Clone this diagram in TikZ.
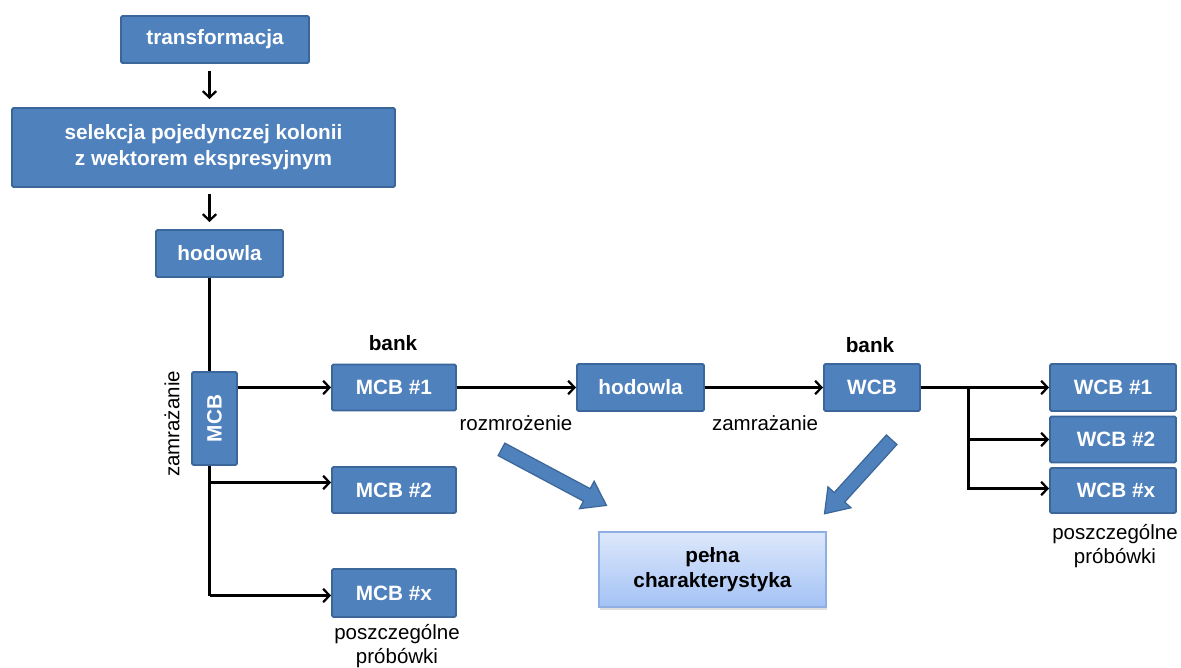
\documentclass[tikz,border=0pt]{standalone}
\usepackage{fontspec}
\setmainfont{Liberation Sans}
\usetikzlibrary{shapes.arrows,shadows,arrows.meta,calc}

\definecolor{boxblue}{HTML}{4F81BD}
\definecolor{boxedge}{HTML}{3A6699}
\definecolor{paletop}{HTML}{DDE8FB}
\definecolor{palebot}{HTML}{A3C2F5}
\definecolor{paleedge}{HTML}{8FAFE2}

\begin{document}
\begin{tikzpicture}[x=1pt,y=-1pt,
  blk/.style={draw=boxedge, line width=1.8pt, fill=boxblue, rounded corners=1.5pt,
    text=white, font=\fontsize{20.75}{26}\selectfont\bfseries, inner sep=0pt},
  lbl/.style={font=\fontsize{20.5}{24}\selectfont, inner sep=0pt, align=center},
  bold lbl/.style={lbl, font=\fontsize{20.75}{24}\selectfont\bfseries},
  conn/.style={line width=2.4pt, -{Straight Barb[length=6.5pt,width=13.5pt,line width=2.2pt]}},
  plain/.style={line width=2.4pt},
  fat arrow/.style={single arrow, draw=boxedge, fill=boxblue, line width=1.2pt,
    inner sep=6.5pt, single arrow head extend=8.5pt, single arrow tip angle=70}]

\useasboundingbox (0,0) rectangle (1181,668);

% upper chain
\node[blk, minimum width=188, minimum height=47] (tr) at (215,39.5) {transformacja};
\node[blk, minimum width=383, minimum height=79, align=center] (sel) at (203.5,147.5)
  {selekcja pojedynczej kolonii\\z wektorem ekspresyjnym};
\node[blk, minimum width=127, minimum height=47] (hod) at (219.5,253.5) {hodowla};

\coordinate (trunk) at (209.5,595.5);
\draw[conn] ($(tr.south -| trunk)+(0,7)$) -- ($(sel.north -| trunk)+(0,-8)$);
\draw[conn] ($(sel.south -| trunk)+(0,6)$) -- ($(hod.north -| trunk)+(0,-7)$);

% master bank: trunk drawn first so that the MCB box lies on top
\node[blk, minimum width=124, minimum height=46] (mcb1) at (394,387.5) {MCB \#1};
\node[blk, minimum width=124, minimum height=46] (mcb2) at (394,490) {MCB \#2};
\node[blk, minimum width=124, minimum height=48] (mcbx) at (394,593) {MCB \#x};
\draw[plain] (hod.south -| trunk) -- (trunk);
\draw[conn] (trunk) -- (trunk -| mcbx.west);
\draw[conn] (trunk |- 0,482.5) -- (mcb2.west |- 0,482.5);
\node[blk, minimum width=45, minimum height=93] (mcb) at (214.5,418.5) {\rotatebox{90}{MCB}};
\draw[conn] (mcb.east |- mcb1.west) -- (mcb1.west);

\node[lbl, rotate=90] (zam1) at (172,424) {zamrażanie};
\node[bold lbl] (bank1) at (393,343) {bank};
\node[lbl] (pos1) at (397,646) {poszczególne\\próbówki};

% working bank
\node[blk, minimum width=127, minimum height=47] (hod2) at (640.5,387.5) {hodowla};
\node[blk, minimum width=96, minimum height=47] (wcb) at (872,387.5) {WCB};
\draw[conn] (mcb1.east) -- (hod2.west);
\draw[conn] (hod2.east) -- (wcb.west);
\node[lbl] (roz) at (516,423) {rozmrożenie};
\node[lbl] (zam2) at (765,423) {zamrażanie};
\node[bold lbl] (bank2) at (870,345) {bank};

\node[blk, minimum width=126, minimum height=47] (wcb1) at (1113,387.5) {WCB \#1};
\node[blk, minimum width=126, minimum height=46] (wcb2) at (1113,439.5) {\hspace*{6pt}WCB \#2};
\node[blk, minimum width=126, minimum height=45] (wcbx) at (1113,490.5) {\hspace*{6pt}WCB \#x};
\coordinate (fork) at (968.5,387.5);
\draw[conn] (wcb.east) -- (wcb1.west);
\draw[conn] (fork) |- (wcb2.west);
\draw[conn] (fork) |- (wcbx.west |- 0,488.5);
\node[lbl] (pos2) at (1115,546.5) {poszczególne\\próbówki};

% characterisation
\node[draw=paleedge, line width=1.2pt, top color=paletop, bottom color=palebot,
  minimum width=227, minimum height=75, inner sep=0pt,
  drop shadow={shadow xshift=1pt, shadow yshift=-3pt, opacity=0.25},
  font=\fontsize{20.75}{25}\selectfont\bfseries, align=center] (full) at (712.5,569.5)
  {pełna\\charakterystyka};

\node[fat arrow, minimum height=119, rotate=-28.1] (ar1) at (549.5,475) {};
\node[fat arrow, minimum height=100, rotate=-132.2] (ar2) at (861.5,473) {};

\end{tikzpicture}
\end{document}
